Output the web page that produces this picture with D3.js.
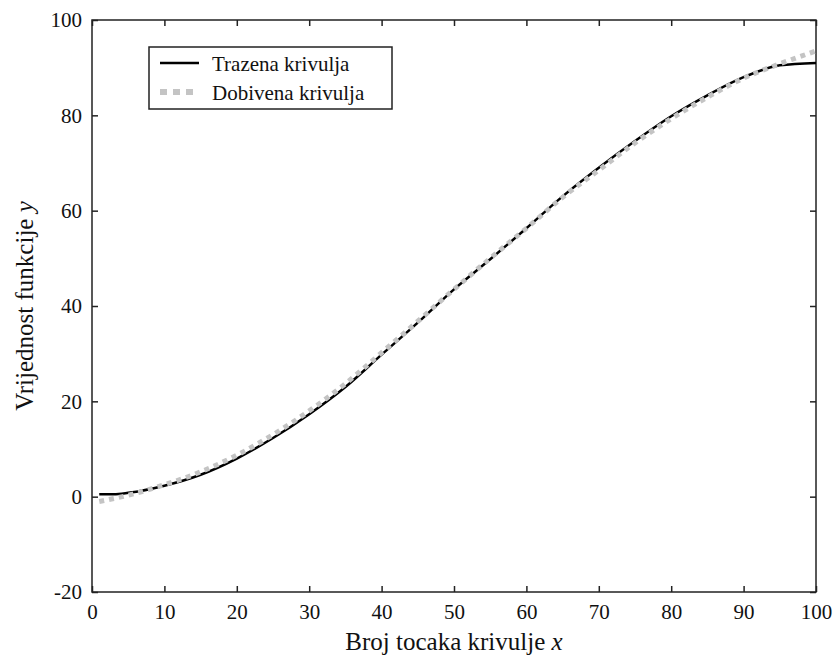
<!DOCTYPE html>
<html>
<head>
<meta charset="utf-8">
<script src="https://cdn.jsdelivr.net/npm/d3@7/dist/d3.min.js"></script>
<style>
  body { margin: 0; background: #fff; }
  svg { display: block; }
  text { font-family: "Liberation Serif", "Times New Roman", serif; }
</style>
</head>
<body>
<svg id="chart" width="838" height="657"></svg>
<script>
// ---- data ----
const targetX = [1, 3, 5, 10, 15, 20, 25, 30, 35, 40, 45, 50, 55, 60, 65, 70, 75, 80, 85, 90, 95, 100];
const targetY = [0.5, 0.5, 0.8, 2.3, 4.6, 8.0, 12.3, 17.3, 23.0, 29.8, 36.5, 43.5, 49.8, 56.3, 63.0, 69.0, 74.6, 79.8, 84.2, 88.0, 90.5, 91.0];
const obtainedX = [1, 5, 10, 15, 20, 25, 30, 35, 40, 45, 50, 55, 60, 65, 70, 75, 80, 85, 90, 95, 100];
const obtainedY = [-1.0, 0.3, 2.5, 5.2, 8.7, 13.0, 18.0, 23.7, 30.2, 36.8, 43.5, 50.0, 56.3, 62.8, 68.5, 74.2, 79.3, 83.8, 87.8, 90.8, 93.5];
const xTicks = [0, 10, 20, 30, 40, 50, 60, 70, 80, 90, 100];
const yTicks = [-20, 0, 20, 40, 60, 80, 100];
const seriesNames = ["Trazena krivulja", "Dobivena krivulja"];
const xTitle = "Broj tocaka krivulje ";
const xTitleVar = "x";
const yTitle = "Vrijednost funkcije ";
const yTitleVar = "y";

// ---- layout ----
const L = 92, R = 816, T = 20, B = 592;
const svg = d3.select("#chart");
const x = d3.scaleLinear().domain([0, 100]).range([L, R]);
const y = d3.scaleLinear().domain([-20, 100]).range([B, T]);
const tickFont = "21px";
const axisColor = "#222";
const fmt = d => String(d);

// axes (inward ticks, mirrored)
const axB = svg.append("g").attr("transform", `translate(0,${B})`)
  .call(d3.axisBottom(x).tickValues(xTicks).tickFormat(fmt).tickSizeInner(-6).tickSizeOuter(0).tickPadding(12));
const axT = svg.append("g").attr("transform", `translate(0,${T})`)
  .call(d3.axisTop(x).tickValues(xTicks).tickSizeInner(-6).tickSizeOuter(0).tickFormat(""));
const axL = svg.append("g").attr("transform", `translate(${L},0)`)
  .call(d3.axisLeft(y).tickValues(yTicks).tickFormat(fmt).tickSizeInner(-6).tickSizeOuter(0).tickPadding(10));
const axR = svg.append("g").attr("transform", `translate(${R},0)`)
  .call(d3.axisRight(y).tickValues(yTicks).tickSizeInner(-6).tickSizeOuter(0).tickFormat(""));
[axB, axT, axL, axR].forEach(g => {
  g.select(".domain").remove();
  g.attr("font-family", null);
  g.selectAll("line").attr("stroke", axisColor).attr("stroke-width", 1.5);
  g.selectAll("text").attr("font-size", tickFont).attr("fill", "#111")
    .style("font-family", '"Liberation Serif", serif');
});
axB.selectAll("text").attr("dy", "0.71em");
svg.append("rect").attr("x", L).attr("y", T).attr("width", R - L).attr("height", B - T)
  .attr("fill", "none").attr("stroke", axisColor).attr("stroke-width", 1.5);

// curves
const line = d3.line().x(d => x(d[0])).y(d => y(d[1])).curve(d3.curveMonotoneX);
const tData = targetX.map((v, i) => [v, targetY[i]]);
const oData = obtainedX.map((v, i) => [v, obtainedY[i]]);
svg.append("path").datum(tData).attr("d", line)
  .attr("fill", "none").attr("stroke", "#000").attr("stroke-width", 2.5);
svg.append("path").datum(oData).attr("d", line)
  .attr("fill", "none").attr("stroke", "#c4c4c4").attr("stroke-width", 5)
  .attr("stroke-dasharray", "5,5");

// legend
const lg = svg.append("g");
lg.append("rect").attr("x", 149).attr("y", 47).attr("width", 243).attr("height", 62)
  .attr("fill", "#fff").attr("stroke", axisColor).attr("stroke-width", 1.5);
lg.append("line").attr("x1", 160).attr("x2", 199).attr("y1", 63).attr("y2", 63)
  .attr("stroke", "#000").attr("stroke-width", 2.5);
lg.append("line").attr("x1", 160).attr("x2", 199).attr("y1", 92).attr("y2", 92)
  .attr("stroke", "#c4c4c4").attr("stroke-width", 6).attr("stroke-dasharray", "7,6");
lg.append("text").attr("x", 212).attr("y", 71).attr("font-size", "21px").attr("fill", "#111").text(seriesNames[0]);
lg.append("text").attr("x", 212).attr("y", 100).attr("font-size", "21px").attr("fill", "#111").text(seriesNames[1]);

// axis titles
const xt = svg.append("text").attr("x", (L + R) / 2).attr("y", 650).attr("text-anchor", "middle")
  .attr("font-size", "25px").attr("fill", "#111");
xt.append("tspan").text(xTitle);
xt.append("tspan").attr("font-style", "italic").text(xTitleVar);
const yt = svg.append("text").attr("transform", `translate(33,${(T + B) / 2}) rotate(-90)`)
  .attr("text-anchor", "middle").attr("font-size", "25px").attr("fill", "#111");
yt.append("tspan").text(yTitle);
yt.append("tspan").attr("font-style", "italic").text(yTitleVar);
</script>
</body>
</html>
